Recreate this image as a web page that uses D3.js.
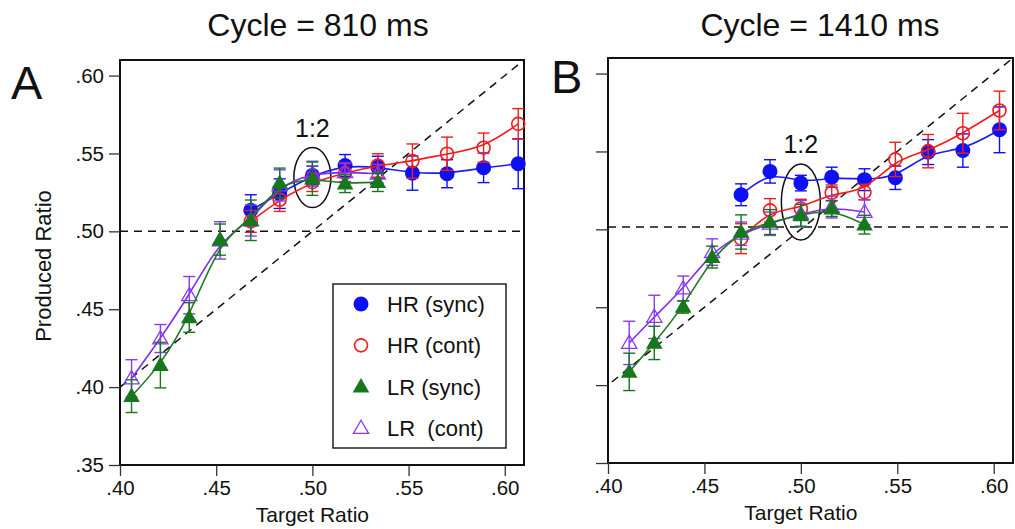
<!DOCTYPE html>
<html>
<head>
<meta charset="utf-8">
<script src="https://cdn.jsdelivr.net/npm/d3@7"></script>
<style>
  body { margin: 0; background: #fff; }
  text { font-family: "Liberation Sans", Arial, sans-serif; fill: #111; }
</style>
</head>
<body>
<div id="chart"></div>
<script>
// Tick values shared by both panels
const xTicks = [0.40, 0.45, 0.50, 0.55, 0.60];
const yTicks = [0.35, 0.40, 0.45, 0.50, 0.55, 0.60];

// Panel A: Cycle = 810 ms
const targetLR_A = [0.406, 0.421, 0.436, 0.452, 0.468, 0.483, 0.500, 0.517, 0.534];
const targetHR_A = [0.468, 0.483, 0.500, 0.517, 0.534, 0.552, 0.570, 0.589, 0.607];
const hrSyncA = [0.5135, 0.5242, 0.5359, 0.5423, 0.5412, 0.5374, 0.5370, 0.5408, 0.5434];
const hrSyncErrA = [0.010, 0.0095, 0.006, 0.007, 0.007, 0.011, 0.009, 0.0095, 0.016];
const hrContA = [0.5064, 0.5203, 0.5316, 0.5374, 0.5423, 0.5451, 0.5498, 0.5537, 0.5690];
const hrContErrA = [0.007, 0.0075, 0.006, 0.006, 0.0075, 0.011, 0.0107, 0.0094, 0.0098];
const lrSyncA = [0.3942, 0.4141, 0.4447, 0.4947, 0.5071, 0.5310, 0.5338, 0.5306, 0.5316];
const lrSyncErrA = [0.0105, 0.0146, 0.0095, 0.010, 0.013, 0.0096, 0.0107, 0.0057, 0.006];
const lrContA = [0.4056, 0.4312, 0.4590, 0.4942, 0.5070, 0.5295, 0.5370, 0.5380, 0.5370];
const lrContErrA = [0.012, 0.009, 0.012, 0.012, 0.010, 0.010, 0.008, 0.006, 0.006];

// Panel B: Cycle = 1410 ms
const targetLR_B = [0.411, 0.424, 0.439, 0.454, 0.469, 0.484, 0.500, 0.516, 0.533];
const targetHR_B = [0.469, 0.484, 0.500, 0.516, 0.533, 0.549, 0.566, 0.584, 0.603];
const hrSyncB = [0.5222, 0.5372, 0.5297, 0.5335, 0.5319, 0.5331, 0.5496, 0.5506, 0.5639];
const hrSyncErrB = [0.007, 0.0075, 0.005, 0.0064, 0.007, 0.0075, 0.008, 0.0107, 0.0147];
const hrContB = [0.4940, 0.5122, 0.5133, 0.5235, 0.5239, 0.5449, 0.5502, 0.5617, 0.5763];
const hrContErrB = [0.0096, 0.0075, 0.006, 0.005, 0.005, 0.011, 0.0107, 0.0128, 0.0124];
const lrSyncB = [0.4085, 0.4271, 0.4502, 0.4822, 0.4983, 0.5047, 0.5090, 0.5133, 0.5030];
const lrSyncErrB = [0.012, 0.0107, 0.004, 0.007, 0.011, 0.008, 0.007, 0.005, 0.006];
const lrContB = [0.4271, 0.4438, 0.4620, 0.4854, 0.4972, 0.5036, 0.5100, 0.5143, 0.5111];
const lrContErrB = [0.0139, 0.0139, 0.008, 0.0085, 0.0075, 0.0075, 0.0085, 0.007, 0.008];

const legendLabels = ["HR (sync)", "HR (cont)", "LR (sync)", "LR  (cont)"];

const width = 1015;
const height = 529;

const svg = d3.select("#chart").append("svg")
    .attr("width", width)
    .attr("height", height);

// marker styles per series
const styles = {
  hrSync: { color: "#0d10f5", line: "#1a1cf0", shape: "circle", filled: true },
  hrCont: { color: "#f21c1c", line: "#f21c1c", shape: "circle", filled: false },
  lrSync: { color: "#16771c", line: "#1f7a22", shape: "triangle", filled: true },
  lrCont: { color: "#8a38f0", line: "#7b2ff0", shape: "triangle", filled: false }
};

function marker(sel, st) {
  if (st.shape === "circle") {
    sel.append("circle")
        .attr("r", st.filled ? 7.5 : 6.5)
        .attr("fill", st.filled ? st.color : "none")
        .attr("stroke", st.color)
        .attr("stroke-width", st.filled ? 0 : 1.6);
  } else {
    sel.append("path")
        .attr("d", d3.symbol(d3.symbolTriangle, st.filled ? 120 : 100)())
        .attr("transform", "translate(0,1)")
        .attr("fill", st.filled ? st.color : "none")
        .attr("stroke", st.color)
        .attr("stroke-width", st.filled ? 0 : 1.3);
  }
}

const fmt = d => d3.format(".2f")(d).replace(/^0/, "");

function drawPanel(p) {
  const x = d3.scaleLinear().domain([0.40, 0.61]).range([p.left, p.right]);
  const y = d3.scaleLinear().domain([0.35, 0.61]).range([p.bottom, p.top]);
  const g = svg.append("g");

  // frame
  g.append("rect")
      .attr("x", p.left).attr("y", p.top)
      .attr("width", p.right - p.left).attr("height", p.bottom - p.top)
      .attr("fill", "none").attr("stroke", "#111").attr("stroke-width", 2);

  // axes
  const xAxis = g.append("g")
      .attr("transform", `translate(0,${p.bottom})`)
      .call(d3.axisBottom(x).tickValues(xTicks).tickSize(11).tickPadding(4).tickFormat(fmt));
  xAxis.select(".domain").remove();
  xAxis.selectAll("line").attr("stroke", "#333").attr("stroke-width", 1.3);
  xAxis.selectAll("text").style("font-size", "20.5px").attr("fill", "#111")
      .style("font-family", "Liberation Sans, Arial, sans-serif");

  const yAxis = g.append("g")
      .attr("transform", `translate(${p.left},0)`)
      .call(d3.axisLeft(y).tickValues(yTicks).tickSize(p.tickLen).tickPadding(5)
        .tickFormat(d => p.yLabels ? fmt(d) : ""));
  yAxis.select(".domain").remove();
  yAxis.selectAll("line").attr("stroke", "#333").attr("stroke-width", 1.3);
  yAxis.selectAll("text").style("font-size", "20.5px").attr("fill", "#111")
      .style("font-family", "Liberation Sans, Arial, sans-serif");

  // reference lines
  g.append("line")
      .attr("x1", x(0.40)).attr("x2", x(0.61))
      .attr("y1", y(p.refLevel)).attr("y2", y(p.refLevel))
      .attr("stroke", "#111").attr("stroke-width", 1.5).attr("stroke-dasharray", "8,6");
  g.append("line")
      .attr("x1", x(p.diagStart)).attr("y1", y(p.diagStart))
      .attr("x2", x(0.61)).attr("y2", y(0.61))
      .attr("stroke", "#111").attr("stroke-width", 1.5).attr("stroke-dasharray", "8,6");

  // 1:2 ellipse and label
  g.append("ellipse")
      .attr("cx", x(0.50)).attr("cy", y(p.ellipseY))
      .attr("rx", p.ellipseRx).attr("ry", p.ellipseRy)
      .attr("fill", "none").attr("stroke", "#111").attr("stroke-width", 1.5);
  g.append("text")
      .attr("x", x(0.50)).attr("y", y(p.ellipseY) - p.ellipseRy - 11)
      .attr("text-anchor", "middle")
      .style("font-size", "25px")
      .text("1:2");

  const line = d3.line()
      .x(d => x(d[0])).y(d => y(d[1]))
      .curve(d3.curveBasis);

  p.series.forEach(s => {
    const st = styles[s.key];
    const pts = s.xs.map((v, i) => [v, s.ys[i], s.err[i]]);
    g.append("path")
        .datum(pts)
        .attr("d", line)
        .attr("fill", "none")
        .attr("stroke", st.line)
        .attr("stroke-width", 1.6);

    const eb = g.append("g").selectAll("g").data(pts).join("g")
        .attr("stroke", st.color).attr("stroke-width", 1.4);
    eb.append("line")
        .attr("x1", d => x(d[0])).attr("x2", d => x(d[0]))
        .attr("y1", d => y(d[1] - d[2])).attr("y2", d => y(d[1] + d[2]));
    eb.append("line")
        .attr("x1", d => x(d[0]) - 6).attr("x2", d => x(d[0]) + 6)
        .attr("y1", d => y(d[1] + d[2])).attr("y2", d => y(d[1] + d[2]));
    eb.append("line")
        .attr("x1", d => x(d[0]) - 6).attr("x2", d => x(d[0]) + 6)
        .attr("y1", d => y(d[1] - d[2])).attr("y2", d => y(d[1] - d[2]));

    g.append("g").selectAll("g").data(pts).join("g")
        .attr("transform", d => `translate(${x(d[0])},${y(d[1])})`)
        .each(function () { marker(d3.select(this), st); });
  });

  // x label
  g.append("text")
      .attr("x", x(0.50)).attr("y", p.bottom + 57)
      .attr("text-anchor", "middle")
      .style("font-size", "21px")
      .text("Target Ratio");

  // title and panel letter
  g.append("text")
      .attr("x", p.titleX).attr("y", 36)
      .attr("text-anchor", "middle")
      .style("font-size", "32px")
      .text(p.title);
  g.append("text")
      .attr("x", p.letterX).attr("y", p.letterY)
      .style("font-size", "47px")
      .text(p.letter);

  return { x, y, g };
}

drawPanel({
  left: 120, right: 524, top: 60, bottom: 465, tickLen: 11, yLabels: true,
  refLevel: 0.50, diagStart: 0.40,
  ellipseY: 0.5345, ellipseRx: 18.5, ellipseRy: 30,
  title: "Cycle = 810 ms", titleX: 318, letter: "A", letterX: 11, letterY: 99,
  series: [
    { key: "hrSync", xs: targetHR_A, ys: hrSyncA, err: hrSyncErrA },
    { key: "hrCont", xs: targetHR_A, ys: hrContA, err: hrContErrA },
    { key: "lrCont", xs: targetLR_A, ys: lrContA, err: lrContErrA },
    { key: "lrSync", xs: targetLR_A, ys: lrSyncA, err: lrSyncErrA }
  ]
});

drawPanel({
  left: 608, right: 1013, top: 58, bottom: 463, tickLen: 12, yLabels: false,
  refLevel: 0.5015, diagStart: 0.402,
  ellipseY: 0.5175, ellipseRx: 19.5, ellipseRy: 38,
  title: "Cycle = 1410 ms", titleX: 820, letter: "B", letterX: 551, letterY: 93,
  series: [
    { key: "hrSync", xs: targetHR_B, ys: hrSyncB, err: hrSyncErrB },
    { key: "hrCont", xs: targetHR_B, ys: hrContB, err: hrContErrB },
    { key: "lrCont", xs: targetLR_B, ys: lrContB, err: lrContErrB },
    { key: "lrSync", xs: targetLR_B, ys: lrSyncB, err: lrSyncErrB }
  ]
});

// y axis title
svg.append("text")
    .attr("transform", "translate(51,266) rotate(-90)")
    .attr("text-anchor", "middle")
    .style("font-size", "22px")
    .text("Produced Ratio");

// legend in panel A
const legend = svg.append("g").attr("transform", "translate(333,284)");
legend.append("rect")
    .attr("width", 173).attr("height", 164)
    .attr("fill", "#fff").attr("stroke", "#222").attr("stroke-width", 1.5);
const legendKeys = ["hrSync", "hrCont", "lrSync", "lrCont"];
const rowY = d3.scalePoint().domain(legendKeys).range([20, 144]);
legendKeys.forEach((k, i) => {
  const row = legend.append("g").attr("transform", `translate(28,${rowY(k)})`);
  marker(row, styles[k]);
  row.append("text")
      .attr("x", 26).attr("y", 8)
      .style("font-size", "22px")
      .style("white-space", "pre")
      .attr("xml:space", "preserve")
      .text(legendLabels[i]);
});
</script>
</body>
</html>
